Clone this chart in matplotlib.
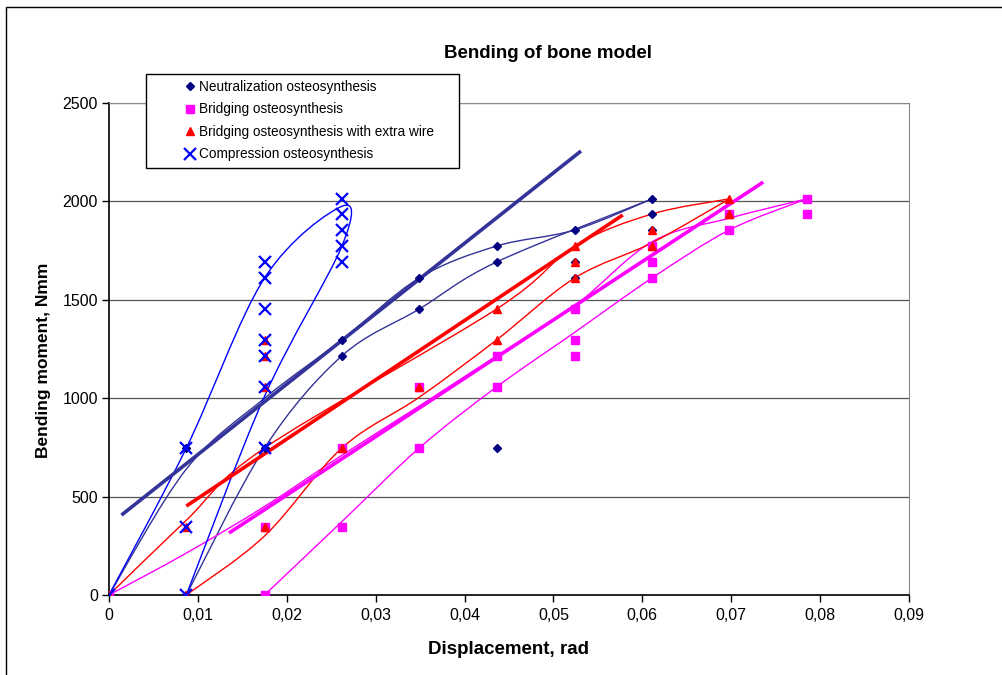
import numpy as np
import matplotlib
matplotlib.use('Agg')
import matplotlib.pyplot as plt
from matplotlib.path import Path
from matplotlib.patches import PathPatch, Rectangle

plt.rcParams['font.family'] = ['Liberation Sans', 'DejaVu Sans']

# measured points (displacement in rad, bending moment in Nmm)
neut_x = [0, 0.0087, 0.0087, 0.0175, 0.0262, 0.0262, 0.0349, 0.0349, 0.0436, 0.0436,
          0.0436, 0.0524, 0.0524, 0.0524, 0.0611, 0.0611, 0.0611]
neut_y = [0, 0, 747, 747, 1296, 1215, 1611, 1453, 1773, 1692,
          747, 1855, 1692, 1611, 2013, 1936, 1855]

bridg_x = [0, 0.0175, 0.0175, 0.0262, 0.0262, 0.0349, 0.0349, 0.0436, 0.0436, 0.0524,
           0.0524, 0.0524, 0.0611, 0.0611, 0.0611, 0.0698, 0.0698, 0.0785, 0.0785]
bridg_y = [0, 0, 345, 345, 747, 747, 1057, 1057, 1215, 1215,
           1296, 1453, 1611, 1692, 1773, 1855, 1936, 2013, 1936]

wire_x = [0, 0.0087, 0.0087, 0.0175, 0.0175, 0.0175, 0.0175, 0.0262, 0.0349, 0.0436,
          0.0436, 0.0524, 0.0524, 0.0524, 0.0611, 0.0611, 0.0698, 0.0698]
wire_y = [0, 0, 345, 345, 1057, 1215, 1296, 747, 1057, 1296,
          1453, 1611, 1692, 1773, 1773, 1855, 1936, 2013]

comp_x = [0, 0.0087, 0.0087, 0.0087, 0.0175, 0.0175, 0.0175, 0.0175, 0.0175, 0.0175,
          0.0175, 0.0262, 0.0262, 0.0262, 0.0262, 0.0262]
comp_y = [0, 0, 345, 747, 747, 1057, 1215, 1296, 1453, 1611,
          1692, 1692, 1773, 1855, 1936, 2013]

# smoothed loading / unloading curves (points the curves pass through)
neut_c1_x = [0, 0.0087, 0.0175, 0.0262, 0.0349, 0.0436, 0.0524, 0.0611]
neut_c1_y = [0, 640, 1000, 1296, 1611, 1773, 1855, 2013]
neut_c2_x = [0.0087, 0.0175, 0.0262, 0.0349, 0.0436, 0.0611]
neut_c2_y = [0, 747, 1215, 1453, 1692, 2013]

comp_c1_x = [0, 0.0087, 0.0175, 0.0262, 0.0262, 0.0175, 0.0087]
comp_c1_y = [0, 747, 1611, 1975, 1773, 1010, 0]

wire_c1_x = [0, 0.0087, 0.0175, 0.0436, 0.0524, 0.0611, 0.0698]
wire_c1_y = [0, 380, 747, 1453, 1773, 1936, 2013]
wire_c2_x = [0.0087, 0.0175, 0.0262, 0.0349, 0.0436, 0.0524, 0.0611, 0.0698]
wire_c2_y = [0, 300, 747, 1005, 1296, 1611, 1790, 2013]

bridg_c1_x = [0, 0.0087, 0.0175, 0.0262, 0.0349, 0.0436, 0.0524, 0.0611, 0.0698, 0.0785]
bridg_c1_y = [0, 213, 450, 710, 960, 1215, 1470, 1795, 1915, 2013]
bridg_c2_x = [0.0175, 0.0262, 0.0349, 0.0436, 0.0524, 0.0611, 0.0698, 0.0785]
bridg_c2_y = [0, 373, 747, 1057, 1335, 1611, 1855, 2013]

# linear trend lines (end points)
neut_trend_x = [0.0014, 0.0531]
neut_trend_y = [406, 2256]
wire_trend_x = [0.0087, 0.0578]
wire_trend_y = [452, 1931]
bridg_trend_x = [0.0135, 0.0736]
bridg_trend_y = [315, 2098]

x_ticks = [0, 0.01, 0.02, 0.03, 0.04, 0.05, 0.06, 0.07, 0.08, 0.09]
x_ticklabels = ['0', '0,01', '0,02', '0,03', '0,04', '0,05', '0,06', '0,07', '0,08', '0,09']
y_ticks = [0, 500, 1000, 1500, 2000, 2500]

NAVY = '#000080'
NAVY_LINE = '#333399'
MAG = '#FF00FF'
RED = '#FF0000'
BLUE = '#0000FF'


def smooth_path(xs, ys):
    # excel-like smoothed line: cubic bezier through the points
    pts = np.column_stack([xs, ys]).astype(float)
    n = len(pts)
    verts = [pts[0]]
    codes = [Path.MOVETO]
    for i in range(n - 1):
        p0 = pts[max(i - 1, 0)]
        p1 = pts[i]
        p2 = pts[i + 1]
        p3 = pts[min(i + 2, n - 1)]
        verts += [p1 + (p2 - p0) / 6, p2 - (p3 - p1) / 6, p2]
        codes += [Path.CURVE4] * 3
    return Path(verts, codes)


fig = plt.figure(figsize=(10.02, 6.75), dpi=100)
ax = fig.add_axes([109 / 1002, 1 - 595 / 675, 800 / 1002, 492 / 675])

curves = [
    (neut_c1_x, neut_c1_y, NAVY_LINE),
    (neut_c2_x, neut_c2_y, NAVY_LINE),
    (bridg_c1_x, bridg_c1_y, MAG),
    (bridg_c2_x, bridg_c2_y, MAG),
    (wire_c1_x, wire_c1_y, RED),
    (wire_c2_x, wire_c2_y, RED),
    (comp_c1_x, comp_c1_y, BLUE),
]
for cx, cy, col in curves:
    ax.add_patch(PathPatch(smooth_path(cx, cy), fill=False, edgecolor=col, lw=1.0, zorder=2))

ax.plot(neut_trend_x, neut_trend_y, color=NAVY_LINE, lw=2.6, solid_capstyle='butt', zorder=2)
ax.plot(wire_trend_x, wire_trend_y, color=RED, lw=2.6, solid_capstyle='butt', zorder=2)
ax.plot(bridg_trend_x, bridg_trend_y, color=MAG, lw=2.6, solid_capstyle='butt', zorder=2)

ax.plot(neut_x, neut_y, 'D', color=NAVY, ms=4.0, ls='none', zorder=3,
        label='Neutralization osteosynthesis')
ax.plot(bridg_x, bridg_y, 's', color=MAG, ms=5.5, ls='none', zorder=3,
        label='Bridging osteosynthesis')
ax.plot(wire_x, wire_y, '^', color=RED, ms=6, ls='none', zorder=3,
        label='Bridging osteosynthesis with extra wire')
ax.plot(comp_x, comp_y, 'x', color=BLUE, ms=8, mew=1.6, ls='none', zorder=4,
        label='Compression osteosynthesis')

ax.set_xlim(0, 0.09)
ax.set_ylim(0, 2500)
ax.set_xticks(x_ticks)
ax.set_xticklabels(x_ticklabels)
ax.set_yticks(y_ticks)
ax.tick_params(axis='both', labelsize=11.5, direction='out', length=5, width=1)
ax.tick_params(axis='x', pad=4)
ax.tick_params(axis='y', pad=3)
ax.yaxis.grid(True, color='#555555', lw=0.9)
ax.set_axisbelow(True)
for s in ['top', 'right']:
    ax.spines[s].set_color('#888888')
for s in ['left', 'bottom']:
    ax.spines[s].set_color('black')
    ax.spines[s].set_linewidth(1.2)

ax.set_xlabel('Displacement, rad', fontsize=13.5, fontweight='bold', labelpad=13)
ax.set_ylabel('Bending moment, Nmm', fontsize=12.5, fontweight='bold')
ax.yaxis.set_label_coords(-0.073, 0.478)
fig.text(548 / 1002, 1 - 54 / 675, 'Bending of bone model', fontsize=13.5,
         fontweight='bold', ha='center', va='center')

# legend box (excel style, wide left margin)
fig.patches.append(Rectangle((146 / 1002, 1 - 168 / 675), 313 / 1002, 94 / 675,
                             transform=fig.transFigure, facecolor='white',
                             edgecolor='black', lw=1.0, zorder=5))
leg = fig.legend(loc='upper left', bbox_to_anchor=(170 / 1002, 1 - 65 / 675),
                 frameon=False, fontsize=9.8, handlelength=0.8, handletextpad=0.25,
                 labelspacing=0.62, borderpad=0.6)
leg.set_zorder(6)

# chart border
fig.patches.append(Rectangle((6 / 1002, -0.05), 1.1, 1 - 7 / 675 + 0.05,
                             transform=fig.transFigure, facecolor='none',
                             edgecolor='black', lw=1.0))

fig.savefig('out.png', dpi=100)
